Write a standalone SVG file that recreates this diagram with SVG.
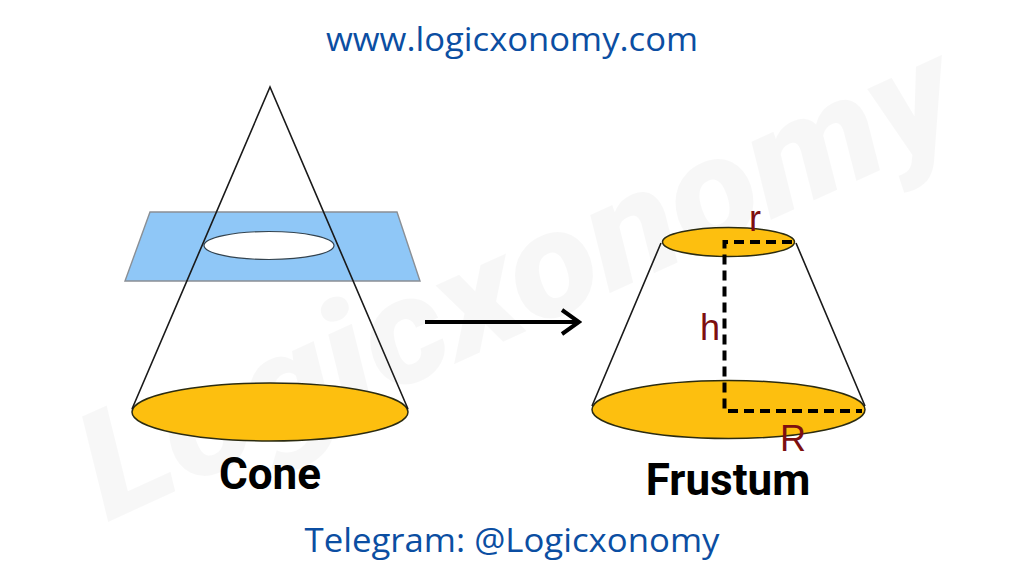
<svg xmlns="http://www.w3.org/2000/svg" width="1024" height="576" viewBox="0 0 1024 576">
<style>
.line{fill:none;stroke:#1a1a1a;stroke-width:1.6}
.disc{fill:#fdbf0f;stroke:#2b2b10;stroke-width:1.5}
.dash{fill:none;stroke:#000;stroke-width:4;stroke-dasharray:10 6}
.cap{font-family:"Open Sans","Noto Sans",sans-serif;font-weight:500;fill:#0b4ea2;font-size:33px;text-anchor:middle}
.name{font-family:"Roboto","Liberation Sans",sans-serif;font-weight:700;fill:#000;text-anchor:middle;font-size:44px}
.dim{font-family:"Liberation Sans","Noto Sans",sans-serif;fill:#7d0f10;font-size:36px;text-anchor:middle}
</style>
<defs><marker id="open" viewBox="0 0 24 30" refX="21" refY="15" markerWidth="24" markerHeight="30" markerUnits="userSpaceOnUse" orient="auto"><path d="M4 3L21 15L4 27" fill="none" stroke="#000" stroke-width="4"/></marker></defs>
<rect width="1024" height="576" fill="#fff"/>
<text id="watermark" transform="translate(108 522) rotate(-24.500)" font-family="Roboto,'Liberation Sans',sans-serif" font-weight="900" font-style="italic" font-size="150" textLength="945" lengthAdjust="spacingAndGlyphs" fill="#000" fill-opacity="0.032">Logicxonomy</text>
<text id="title" class="cap" x="512" y="51" textLength="372" lengthAdjust="spacingAndGlyphs">www.logicxonomy.com</text>
<g id="cone">
<path d="M150 212H397L420 281H125Z" fill="#8fc7f7" stroke="#8a8f95" stroke-width="1.4"/>
<ellipse cx="269" cy="245.500" rx="65" ry="14" fill="#fff" stroke="#33434f" stroke-width="1.200"/>
<ellipse class="disc" cx="270" cy="412" rx="138" ry="29"/>
<path class="line" d="M132 409L270 87L408 409"/>
<text class="name" x="270" y="489">Cone</text>
</g>
<g id="frustum">
<ellipse class="disc" cx="728.500" cy="242" rx="66" ry="14.500"/>
<ellipse class="disc" cx="728.500" cy="409.500" rx="136.500" ry="29"/>
<path class="line" d="M661 243L592 406M796 243L865 406"/>
<text class="dim" x="755" y="231">r</text>
<text class="dim" x="710" y="340">h</text>
<text class="dim" x="793" y="451">R</text>
<text class="name" x="728" y="495">Frustum</text>
</g>
<g id="connectors">
<path class="dash" d="M792 242H724.500V411H862"/>
<path d="M425 322H579" fill="none" stroke="#000" stroke-width="4" marker-end="url(#open)"/>
</g>
<text id="footer" class="cap" x="512" y="552" textLength="415" lengthAdjust="spacingAndGlyphs">Telegram: @Logicxonomy</text>
</svg>
